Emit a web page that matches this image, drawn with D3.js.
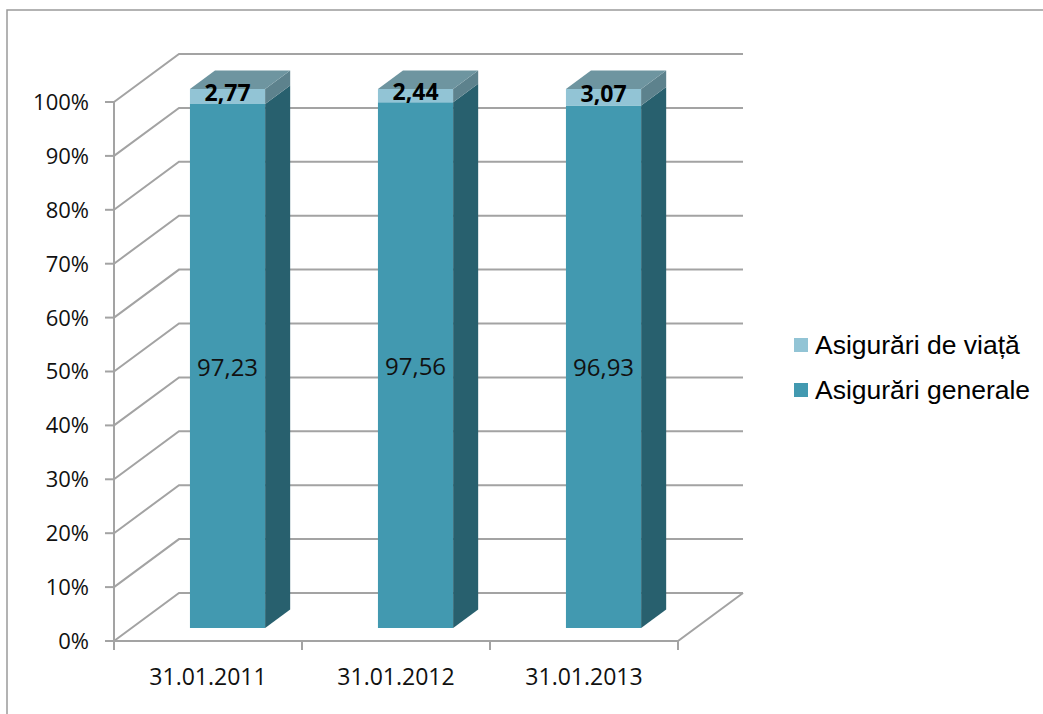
<!DOCTYPE html>
<html>
<head>
<meta charset="utf-8">
<script src="https://cdn.jsdelivr.net/npm/d3@7"></script>
<style>
  body { margin: 0; background: #fff; }
  svg { display: block; }
</style>
</head>
<body>
<div id="chart"></div>
<script>
// Data
const categories = ["31.01.2011", "31.01.2012", "31.01.2013"];
const generale = [97.23, 97.56, 96.93];   // Asigurări generale
const viata = [2.77, 2.44, 3.07];         // Asigurări de viață
const seriesNames = ["Asigurări de viață", "Asigurări generale"];
const yTicks = [0, 10, 20, 30, 40, 50, 60, 70, 80, 90, 100];

const W = 1043, H = 714;
const svg = d3.select("#chart").append("svg")
    .attr("width", W)
    .attr("height", H);

// outer frame
svg.append("path")
    .attr("d", "M7,714 L7,10 L1043,10")
    .attr("fill", "none")
    .attr("stroke", "#9a9a9a")
    .attr("stroke-width", 1.5);

// front-plane scales
const x = d3.scaleBand()
    .domain(categories)
    .range([116, 680])
    .paddingInner(0.6)
    .paddingOuter(0.3);
const xAxisScale = d3.scaleBand().domain(categories).range([114, 678]);
const y = d3.scaleLinear().domain([0, 100]).range([641, 102]);

// depth offset
const DX = 65, DY = -48;
const P = (px, v, d) => [px + d * DX, y(v) + d * DY];

const gridColor = "#a3a3a3";
const grid = svg.append("g").attr("stroke", gridColor).attr("stroke-width", 2).attr("fill", "none");

// back wall + side wall lines
yTicks.forEach(t => {
    const a = P(114, t, 0), b = P(114, t, 1), c = P(678, t, 1);
    grid.append("path").attr("d", `M${a}L${b}L${c}`);
});
// floor
grid.append("path").attr("d", `M${P(114, 0, 0)}L${P(678, 0, 0)}L${P(678, 0, 1)}`);

// y axis
grid.append("line").attr("x1", 114).attr("x2", 114).attr("y1", y(100)).attr("y2", y(0));
yTicks.forEach(t => {
    grid.append("line").attr("x1", 105).attr("x2", 114).attr("y1", y(t)).attr("y2", y(t));
});
// x axis ticks
const xTickPos = categories.map(c => xAxisScale(c)).concat([678]);
xTickPos.forEach(px => {
    grid.append("line").attr("x1", px).attr("x2", px).attr("y1", y(0)).attr("y2", y(0) + 9);
});

// y labels
svg.append("g").selectAll("text")
    .data(yTicks)
    .enter().append("text")
    .attr("x", 89)
    .attr("y", d => y(d))
    .attr("dy", "0.36em")
    .attr("text-anchor", "end")
    .attr("font-family", "Open Sans")
    .attr("font-size", 22)
    .attr("fill", "#111")
    .text(d => d + "%");

// x labels
svg.append("g").selectAll("text")
    .data(categories)
    .enter().append("text")
    .attr("x", d => xAxisScale(d) + xAxisScale.bandwidth() / 2)
    .attr("y", 685)
    .attr("text-anchor", "middle")
    .attr("font-family", "Open Sans")
    .attr("font-size", 23)
    .attr("fill", "#111")
    .text(d => d);

// bars
const d0 = 0.27, d1 = 0.655;
const colors = {
    gen: { front: "#4299b0", side: "#28606e", top: "#5f8f9c" },
    via: { front: "#92c4d5", side: "#5d828d", top: "#6e95a0" }
};
const poly = pts => "M" + pts.map(p => p.join(",")).join("L") + "Z";

const bars = svg.append("g");
categories.forEach((c, i) => {
    const x0 = x(c), x1 = x(c) + x.bandwidth();
    const segs = [
        { lo: 0, hi: generale[i], col: colors.gen },
        { lo: generale[i], hi: generale[i] + viata[i], col: colors.via }
    ];
    segs.forEach(s => {
        bars.append("path").attr("fill", s.col.front)
            .attr("d", poly([P(x0, s.lo, d0), P(x1, s.lo, d0), P(x1, s.hi, d0), P(x0, s.hi, d0)]));
        bars.append("path").attr("fill", s.col.side)
            .attr("d", poly([P(x1, s.lo, d0), P(x1, s.lo, d1), P(x1, s.hi, d1), P(x1, s.hi, d0)]));
    });
    const top = generale[i] + viata[i];
    bars.append("path").attr("fill", colors.via.top)
        .attr("d", poly([P(x0, top, d0), P(x1, top, d0), P(x1, top, d1), P(x0, top, d1)]));

    const cx = (x0 + x1) / 2 + d0 * DX;
    // value labels
    bars.append("text")
        .attr("x", cx)
        .attr("y", (P(x0, 0, d0)[1] + P(x0, generale[i], d0)[1]) / 2 + 1)
        .attr("dy", "0.36em")
        .attr("text-anchor", "middle")
        .attr("font-family", "Open Sans")
        .attr("font-size", 24)
        .attr("fill", "#111")
        .text(d3.format(".2f")(generale[i]).replace(".", ","));
    bars.append("text")
        .attr("x", cx)
        .attr("y", (P(x0, generale[i], d0)[1] + P(x0, top, d0)[1]) / 2 - 4)
        .attr("dy", "0.36em")
        .attr("text-anchor", "middle")
        .attr("font-family", "Open Sans")
        .attr("font-weight", "bold")
        .attr("font-size", 23)
        .attr("fill", "#000")
        .text(d3.format(".2f")(viata[i]).replace(".", ","));
});

// legend
const legend = svg.selectAll(".legend")
    .data(seriesNames)
    .enter().append("g")
    .attr("class", "legend")
    .attr("transform", (d, i) => "translate(794," + (345 + i * 45) + ")");
legend.append("rect")
    .attr("x", 0).attr("y", -7)
    .attr("width", 14).attr("height", 14)
    .attr("fill", (d, i) => i === 0 ? colors.via.front : colors.gen.front);
legend.append("text")
    .attr("x", 21)
    .attr("y", 0)
    .attr("dy", "0.35em")
    .attr("font-family", "Liberation Sans, Arial")
    .attr("font-size", 26.5)
    .attr("fill", "#000")
    .text(d => d);
</script>
</body>
</html>
